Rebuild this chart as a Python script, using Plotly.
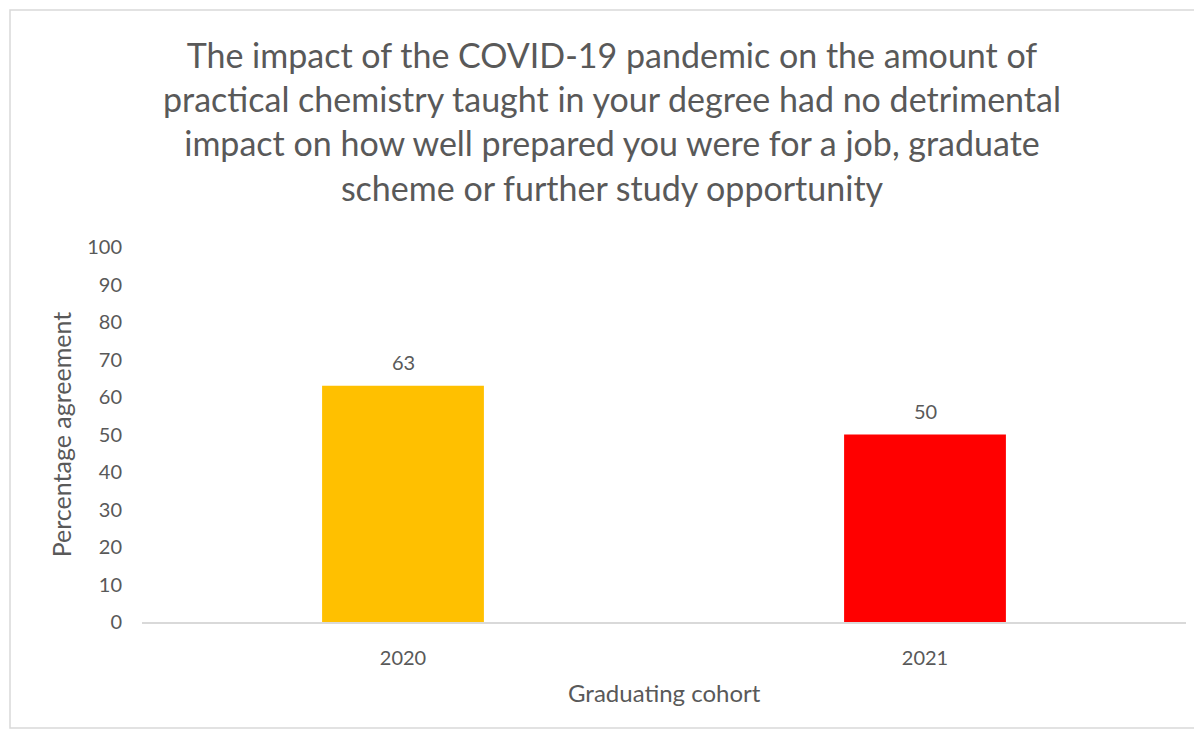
import plotly.graph_objects as go

categories = ["2020", "2021"]
values = [63, 50]
bar_colors = ["#FFC000", "#FF0000"]
y_ticks = [0, 10, 20, 30, 40, 50, 60, 70, 80, 90, 100]

title_text = ("The impact of the COVID-19 pandemic on the amount of<br>"
              "practical chemistry taught in your degree had no detrimental<br>"
              "impact on how well prepared you were for a job, graduate<br>"
              "scheme or further study opportunity")
x_title = "Graduating cohort"
y_title = "Percentage agreement"

# page body has an 8px margin; work in reference pixels and shift
OFF = 8
W, H = 1202 - OFF, 733 - OFF
L, T = 142 - OFF, 247 - OFF
R, B = 16, 111
pw, ph = W - L - R, H - T - B

def px_x(x):
    return (x - OFF - L) / pw

def px_y(y):
    return (H - B - (y - OFF)) / ph

FONT = "Lato, 'Open Sans', sans-serif"
GREY = "#595959"

fig = go.Figure(go.Bar(
    x=categories, y=values,
    marker=dict(color=bar_colors, line=dict(width=0)),
    cliponaxis=False,
))

# category axis: annotation x given as the category index
annotations = [dict(x=i, y=v, xref="x", yref="y", text=str(v), showarrow=False,
                    yanchor="middle", yshift=24,
                    font=dict(family=FONT, size=20, color=GREY))
               for i, v in enumerate(values)]
annotations.append(dict(x=0.5, y=px_y(692), xref="paper", yref="paper",
                        text=x_title, showarrow=False, xanchor="center",
                        yanchor="middle",
                        font=dict(family=FONT, size=24, color=GREY)))

fig.update_layout(
    width=W, height=H,
    margin=dict(l=L, r=R, t=T, b=B),
    paper_bgcolor="white", plot_bgcolor="white",
    bargap=0.69,
    showlegend=False,
    annotations=annotations,
    title=dict(text=title_text, x=(612 - OFF) / W, xanchor="center", xref="container",
               y=1 - 60 / H, yanchor="top", yref="container",
               font=dict(family=FONT, size=34, color=GREY)),
    xaxis=dict(type="category", showgrid=False, showline=True, linecolor="#D9D9D9",
               linewidth=1.5,
               ticks="outside", ticklen=17, tickcolor="rgba(0,0,0,0)",
               tickfont=dict(family=FONT, size=20, color=GREY)),
    yaxis=dict(range=[0, 100], tickvals=y_ticks, showgrid=False, showline=False,
               zeroline=False,
               ticks="outside", ticklen=15, tickcolor="rgba(0,0,0,0)",
               tickfont=dict(family=FONT, size=20, color=GREY),
               title=dict(text=y_title, standoff=8,
                          font=dict(family=FONT, size=25, color=GREY))),
    shapes=[dict(type="rect", xref="paper", yref="paper",
                 x0=px_x(10), x1=px_x(1197), y0=px_y(728), y1=px_y(10),
                 line=dict(color="#D9D9D9", width=1.5), fillcolor="rgba(0,0,0,0)",
                 layer="above")],
)

fig.write_html("out.html")
